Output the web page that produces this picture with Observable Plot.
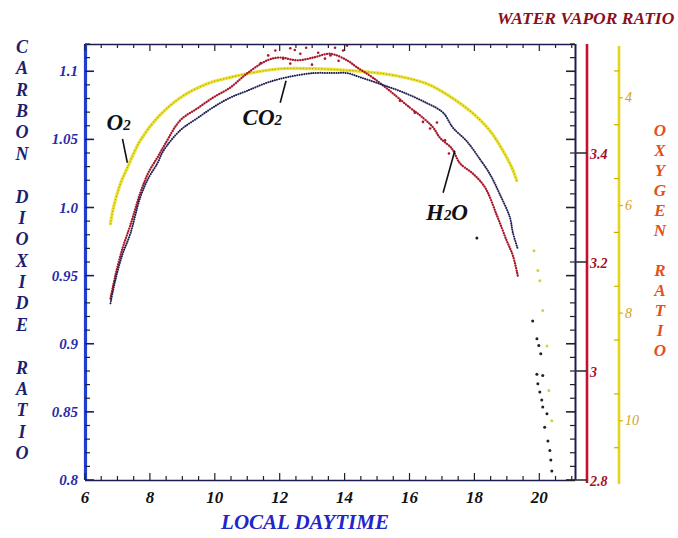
<!DOCTYPE html>
<html><head><meta charset="utf-8">
<script src="https://cdn.jsdelivr.net/npm/d3@7"></script>
<script src="https://cdn.jsdelivr.net/npm/@observablehq/plot@0.6"></script>
<style>body{margin:0;background:#fff}</style>
</head><body><div id="chart"></div>
<script>
// ---- data ----
const co2Hours = [6.77, 6.92, 7.14, 7.38, 7.69, 7.94, 8.22, 8.40, 8.92, 9.45, 9.94, 10.46, 10.98, 11.60, 12.22, 13.02, 13.63, 14.06, 14.46, 15.08, 15.78, 16.52, 17.02, 17.32, 17.75, 18.15, 18.46, 18.77, 19.08, 19.17, 19.32];
const co2Ratio = [0.930, 0.947, 0.966, 0.981, 1.008, 1.022, 1.033, 1.042, 1.057, 1.066, 1.074, 1.081, 1.086, 1.092, 1.096, 1.099, 1.099, 1.099, 1.096, 1.091, 1.085, 1.077, 1.070, 1.059, 1.049, 1.036, 1.025, 1.010, 0.993, 0.982, 0.970];
const tailHours = [18.06, 19.78, 19.91, 19.97, 20.03, 19.91, 20.09, 19.94, 20.00, 20.06, 20.09, 20.22, 20.15, 20.25, 20.31, 20.34, 20.37];
const tailRatio = [0.978, 0.917, 0.904, 0.899, 0.893, 0.878, 0.877, 0.871, 0.865, 0.859, 0.854, 0.849, 0.839, 0.829, 0.822, 0.815, 0.807];
const h2oHours = [6.77, 6.92, 7.14, 7.38, 7.69, 7.94, 8.22, 8.46, 8.92, 9.45, 9.94, 10.46, 10.98, 11.60, 12.00, 12.52, 13.02, 13.54, 14.06, 14.37, 14.86, 15.48, 16.00, 16.31, 16.71, 16.92, 17.29, 17.54, 17.94, 18.31, 18.68, 18.98, 19.17, 19.32];
const h2oRatio = [3.134, 3.176, 3.226, 3.268, 3.328, 3.365, 3.393, 3.418, 3.461, 3.483, 3.503, 3.521, 3.547, 3.571, 3.576, 3.571, 3.576, 3.583, 3.571, 3.558, 3.539, 3.510, 3.484, 3.470, 3.448, 3.429, 3.409, 3.382, 3.363, 3.338, 3.286, 3.240, 3.213, 3.176];
const h2oScatterHours = [11.63, 11.85, 12.09, 12.31, 12.62, 12.80, 13.17, 13.38, 13.69, 13.94, 14.06, 12.31, 12.98, 11.40, 12.45, 13.55, 13.80, 15.69, 16.15, 16.62, 16.83, 17.08, 17.20, 16.40];
const h2oScatterRatio = [3.580, 3.589, 3.574, 3.593, 3.583, 3.594, 3.585, 3.574, 3.594, 3.589, 3.598, 3.565, 3.563, 3.566, 3.590, 3.580, 3.570, 3.497, 3.475, 3.446, 3.457, 3.424, 3.400, 3.458];
const o2Hours = [6.77, 6.86, 7.08, 7.29, 7.48, 7.69, 8.22, 8.92, 9.75, 10.46, 11.17, 12.00, 13.02, 14.06, 14.86, 15.48, 16.52, 17.32, 17.94, 18.46, 18.86, 19.14, 19.29];
const o2Ratio = [6.33, 6.03, 5.58, 5.29, 5.03, 4.78, 4.36, 3.99, 3.73, 3.61, 3.52, 3.45, 3.45, 3.48, 3.52, 3.57, 3.73, 4.00, 4.28, 4.60, 4.97, 5.29, 5.53];
const o2TailHours = [19.82, 19.94, 20.00, 20.09, 20.22, 20.28, 20.37];
const o2TailRatio = [6.83, 7.20, 7.39, 7.94, 8.60, 9.43, 9.99];

const hourTicks = [6, 8, 10, 12, 14, 16, 18, 20];
const co2TickValues = [0.8, 0.85, 0.9, 0.95, 1.0, 1.05, 1.1];
const co2TickLabels = ["0.8", "0.85", "0.9", "0.95", "1.0", "1.05", "1.1"];
const h2oTickValues = [2.8, 3.0, 3.2, 3.4];
const h2oTickLabels = ["2.8", "3", "3.2", "3.4"];
const o2TickValues = [4, 6, 8, 10];
const o2TickLabels = ["4", "6", "8", "10"];

const molLabels = [
  {t: 7.02, v: 1.0626, text: "O2"},
  {t: 11.45, v: 1.0662, text: "CO2"},
  {t: 17.14, v: 0.9965, text: "H2O"}
];
const leaders = [
  {t1: 7.14, v1: 1.0508, t2: 7.29, v2: 1.0332},
  {t1: 12.0, v1: 1.0773, t2: 12.18, v2: 1.0934},
  {t1: 17.02, v1: 1.0112, t2: 17.38, v2: 1.042}
];

// ---- scales ----
const xDomain = [6, 21.1];
const yDomain = [0.8, 1.12];
const h2oDomain = [2.8, 3.6];
const o2Domain = [3, 11.1];
const h2oToY = d3.scaleLinear().domain(h2oDomain).range(yDomain);
const o2ToY = d3.scaleLinear().domain(o2Domain).range([yDomain[1], yDomain[0]]);

const co2 = co2Hours.map((t, i) => ({t, v: co2Ratio[i]}));
const tail = tailHours.map((t, i) => ({t, v: tailRatio[i]}));
const h2o = h2oHours.map((t, i) => ({t, v: h2oToY(h2oRatio[i])}));
const h2oSc = h2oScatterHours.map((t, i) => ({t, v: h2oToY(h2oScatterRatio[i])}));
const o2 = o2Hours.map((t, i) => ({t, v: o2ToY(o2Ratio[i])}));
const o2Tail = o2TailHours.map((t, i) => ({t, v: o2ToY(o2TailRatio[i])}));

const SERIF = "'Liberation Serif', 'DejaVu Serif', serif";
const NAVY = "#1c1c52";

const plot = Plot.plot({
  width: 678, height: 538,
  marginLeft: 85, marginRight: 103, marginTop: 44, marginBottom: 58,
  x: {domain: xDomain, axis: null},
  y: {domain: yDomain, axis: null},
  style: {background: "#fff", fontFamily: SERIF, overflow: "visible"},
  marks: [
    Plot.line(o2, {x: "t", y: "v", stroke: "#ebe23c", strokeWidth: 3.2, curve: "catmull-rom"}),
    Plot.line(o2, {x: "t", y: "v", stroke: "#b9a800", strokeWidth: 1.3, strokeDasharray: "0.1,3", strokeLinecap: "round", curve: "catmull-rom"}),
    Plot.dot(o2Tail, {x: "t", y: "v", r: 1.5, fill: "#d9cf3a"}),
    Plot.line(h2o, {x: "t", y: "v", stroke: "#a8182a", strokeWidth: 2.3, strokeDasharray: "0.1,2.4", strokeLinecap: "round", curve: "catmull-rom"}),
    Plot.dot(h2oSc, {x: "t", y: "v", r: 1.3, fill: "#a8182a"}),
    Plot.line(co2, {x: "t", y: "v", stroke: "#1e1e55", strokeWidth: 2, strokeDasharray: "0.1,2.2", strokeLinecap: "round", curve: "catmull-rom"}),
    Plot.dot(tail, {x: "t", y: "v", r: 1.5, fill: "#1e1e2e"}),
    Plot.link(leaders, {x1: "t1", y1: "v1", x2: "t2", y2: "v2", stroke: "#111", strokeWidth: 1.6}),
    Plot.text(molLabels, {x: "t", y: "v", text: "text", fontSize: 23, fontWeight: "bold", fontStyle: "italic", fill: "#111", fontFamily: SERIF}),
    Plot.ruleY([yDomain[1]], {stroke: NAVY, strokeWidth: 1.6}),
    Plot.ruleY([yDomain[0]], {stroke: NAVY, strokeWidth: 1.6}),
    Plot.ruleX([xDomain[1]], {stroke: NAVY, strokeWidth: 2}),
    Plot.ruleX([xDomain[0]], {stroke: "#1f3fd0", strokeWidth: 3.2, y1: yDomain[0], y2: yDomain[1]})
  ]
});

document.getElementById("chart").appendChild(plot);

// subscripts for molecule labels
d3.select(plot).selectAll('g[aria-label="text"] text').each(function() {
  const s = this.textContent;
  const el = d3.select(this);
  el.text("");
  for (const ch of s) {
    const ts = el.append("tspan").text(ch);
    if (ch === "2") ts.attr("font-size", "15");
  }
});

// ---- axes overlay using the plot's scales ----
const sx = v => plot.scale("x").apply(v);
const sy = v => plot.scale("y").apply(v);
const svg = d3.select(plot);
const g = svg.append("g");
const X0 = sx(xDomain[0]), X1 = sx(xDomain[1]);
const YT = sy(yDomain[1]), YB = sy(yDomain[0]);

function line(x1, y1, x2, y2, stroke, w) {
  g.append("line").attr("x1", x1).attr("y1", y1).attr("x2", x2).attr("y2", y2)
    .attr("stroke", stroke).attr("stroke-width", w);
}
function txt(x, y, s, opts) {
  return g.append("text").attr("x", x).attr("y", y).text(s)
    .attr("font-family", SERIF).attr("font-style", "italic").attr("font-weight", opts.weight || "bold")
    .attr("font-size", opts.size).attr("fill", opts.fill)
    .attr("text-anchor", opts.anchor || "middle").attr("dominant-baseline", "central");
}

// left & right-frame ticks (0.01 steps)
for (let i = 0; i <= 32; i++) {
  const v = 0.8 + i * 0.01;
  const major = i % 5 === 0;
  const y = sy(v);
  const len = major ? 9 : 5;
  line(X0, y, X0 + len, y, major ? "#1c1c6a" : "#222", major ? 1.6 : 1.2);
  line(X1, y, X1 - len, y, "#222", major ? 1.6 : 1.2);
}
// top & bottom ticks (0.5 h)
for (let i = 0; i <= 30; i++) {
  const h = 6 + i * 0.5;
  if (h > xDomain[1]) break;
  const x = sx(h);
  const major = h % 2 === 0;
  const len = major ? 7 : 4;
  line(x, YT, x, YT + len, "#222", 1.2);
  line(x, YB, x, YB - len, "#222", 1.2);
}
// left tick labels
co2TickValues.forEach((v, i) => txt(X0 - 7, sy(v), co2TickLabels[i], {size: 15, fill: "#2a2aa6", anchor: "end"}));
// bottom tick labels
hourTicks.forEach(h => txt(sx(h), YB + 17, String(h), {size: 17, fill: "#111"}));

// water vapor axis
const RX = X1 + 12;
line(RX, YT, RX, YB + 3, "#c8102e", 2.6);
h2oTickValues.forEach((v, i) => {
  const y = sy(h2oToY(v));
  line(X1, y, RX, y, "#333", 1.6);
  txt(RX + 3, y + 1, h2oTickLabels[i], {size: 14, fill: "#a01028", anchor: "start"});
});

// oxygen axis
const OX = X1 + 44;
line(OX, YT + 2, OX, YB + 4, "#e6d41c", 2.6);
for (let k = 3.5; k <= 10.5; k += 1) {
  const y = sy(o2ToY(k));
  line(OX - 5, y, OX, y, "#c9b000", 1.2);
}
o2TickValues.forEach((v, i) => {
  const y = sy(o2ToY(v));
  line(OX, y, OX + 4, y, "#d8b400", 1.2);
  txt(OX + 6, y, o2TickLabels[i], {size: 14, fill: "#d6a214", anchor: "start", weight: "normal"});
});

// titles (stacked letters)
const leftTitle = "CARBON DIOXIDE RATIO";
[...leftTitle].forEach((ch, i) => {
  if (ch !== " ") txt(22, 47 + i * 21.37, ch, {size: 18, fill: "#1e1e6e"});
});
const rightTitle = "OXYGEN RATIO";
[...rightTitle].forEach((ch, i) => {
  if (ch !== " ") txt(660, 130 + i * 20, ch, {size: 17, fill: "#e4501a"});
});
txt(497, 18, "WATER VAPOR RATIO", {size: 17.5, fill: "#8a1020", anchor: "start"});
txt(305, 522, "LOCAL DAYTIME", {size: 21, fill: "#2424c8"});
</script>
</body></html>
